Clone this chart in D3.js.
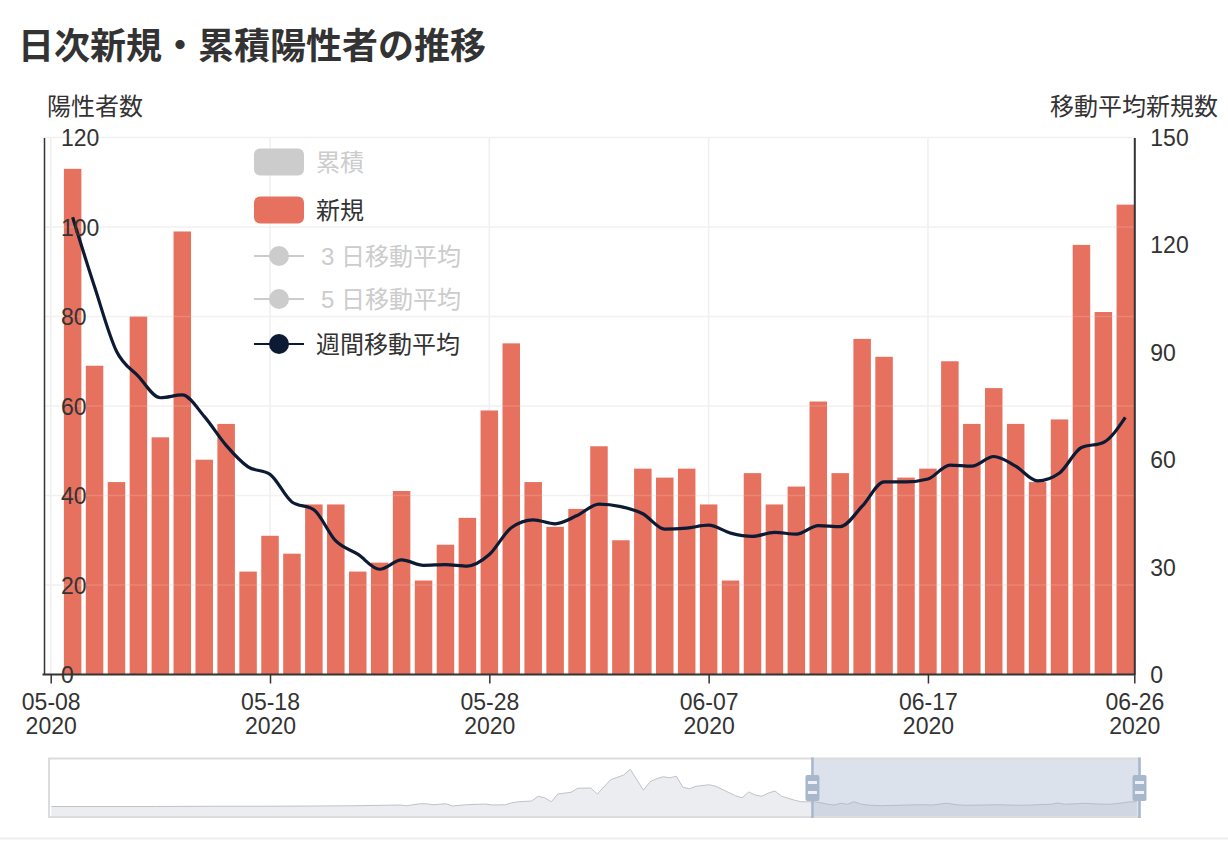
<!DOCTYPE html>
<html lang="ja">
<head>
<meta charset="utf-8">
<script src="https://cdn.jsdelivr.net/npm/d3@7"></script>
<style>
  body { margin: 0; background: #fff; }
  svg text { font-family: "Liberation Sans", "Noto Sans CJK JP", sans-serif; fill: #333; }
</style>
</head>
<body>
<svg id="chart" width="1228" height="856"></svg>
<script>
// daily new positives (bars) and 7-day moving average (line, right axis)
const dates = [
  "2020-05-09", "2020-05-10", "2020-05-11", "2020-05-12", "2020-05-13", "2020-05-14", "2020-05-15",
  "2020-05-16", "2020-05-17", "2020-05-18", "2020-05-19", "2020-05-20", "2020-05-21", "2020-05-22",
  "2020-05-23", "2020-05-24", "2020-05-25", "2020-05-26", "2020-05-27", "2020-05-28", "2020-05-29",
  "2020-05-30", "2020-05-31", "2020-06-01", "2020-06-02", "2020-06-03", "2020-06-04", "2020-06-05",
  "2020-06-06", "2020-06-07", "2020-06-08", "2020-06-09", "2020-06-10", "2020-06-11", "2020-06-12",
  "2020-06-13", "2020-06-14", "2020-06-15", "2020-06-16", "2020-06-17", "2020-06-18", "2020-06-19",
  "2020-06-20", "2020-06-21", "2020-06-22", "2020-06-23", "2020-06-24", "2020-06-25", "2020-06-26"
];
const newCases = [
  113, 69, 43, 80, 53, 99, 48, 56, 23, 31, 27, 38, 38, 23, 25, 41, 21, 29, 35, 59, 74, 43, 33, 37, 51,
  30, 46, 44, 46, 38, 21, 45, 38, 42, 61, 45, 75, 71, 44, 46, 70, 56, 64, 56, 43, 57, 96, 81, 105
];
const weeklyAvg = [
  127.7, 108.3, 90.3, 83.3, 77.3, 78.1, 72.1, 64.0, 58.0, 55.9, 48.2, 46.0, 37.3, 33.6, 29.4, 32.0,
  30.5, 30.7, 30.3, 33.5, 41.0, 43.2, 42.1, 44.4, 47.6, 46.9, 44.9, 40.6, 40.9, 41.7, 39.5, 38.6,
  39.7, 39.2, 41.6, 41.3, 47.0, 53.8, 53.8, 54.6, 58.5, 58.2, 60.9, 58.2, 54.1, 56.3, 63.4, 64.8, 71.8
];

const leftTicks = [0, 20, 40, 60, 80, 100, 120];
const rightTicks = [0, 30, 60, 90, 120, 150];
const xTickDates = ["2020-05-08", "2020-05-18", "2020-05-28", "2020-06-07", "2020-06-17"];

const legendNames = ["累積", "新規", "3 日移動平均", "5 日移動平均", "週間移動平均"];
const legendTypes = ["bar", "bar", "line", "line", "line"];
const legendActive = [false, true, false, false, true];

// data-zoom shadow (whole period, relative level)
const shadowDates = [
  "2020-01-13", "2020-01-21", "2020-01-29", "2020-02-06", "2020-02-14", "2020-02-22", "2020-02-28",
  "2020-03-06", "2020-03-07", "2020-03-09", "2020-03-10", "2020-03-11", "2020-03-13", "2020-03-14",
  "2020-03-16", "2020-03-19", "2020-03-20", "2020-03-22", "2020-03-23", "2020-03-24", "2020-03-26",
  "2020-03-27", "2020-03-28", "2020-03-29", "2020-03-30", "2020-04-01", "2020-04-02", "2020-04-04",
  "2020-04-05", "2020-04-07", "2020-04-09", "2020-04-10", "2020-04-12", "2020-04-13", "2020-04-14",
  "2020-04-15", "2020-04-16", "2020-04-17", "2020-04-18", "2020-04-19", "2020-04-20", "2020-04-22",
  "2020-04-23", "2020-04-26", "2020-04-27", "2020-04-28", "2020-04-29", "2020-04-30", "2020-05-01",
  "2020-05-02", "2020-05-03", "2020-05-04", "2020-05-05", "2020-05-06", "2020-05-08", "2020-05-09",
  "2020-05-10", "2020-05-11", "2020-05-12", "2020-05-13", "2020-05-14", "2020-05-15", "2020-05-16",
  "2020-05-18", "2020-05-21", "2020-05-24", "2020-05-26", "2020-05-28", "2020-05-30", "2020-05-31",
  "2020-06-03", "2020-06-05", "2020-06-08", "2020-06-10", "2020-06-13", "2020-06-14", "2020-06-15",
  "2020-06-17", "2020-06-18", "2020-06-20", "2020-06-22", "2020-06-24", "2020-06-25", "2020-06-26"
];
const shadowValues = [
  42, 42, 42, 43, 43, 44, 45,
  48, 45, 53, 53, 49, 53, 44,
  49, 52, 48, 49, 57, 61, 64,
  83, 77, 61, 92, 99, 115, 116,
  92, 149, 168, 191, 107, 141, 153,
  161, 157, 163, 119, 113, 123, 129,
  123, 85, 77, 100, 88, 83, 96,
  104, 83, 75, 67, 61, 61, 57,
  51, 48, 55, 51, 61, 52, 48,
  45, 47, 49, 48, 55, 48, 47,
  48, 49, 47, 48, 51, 56, 51,
  53, 55, 52, 51, 57, 61, 61
];

const parse = d3.timeParse("%Y-%m-%d");
const barColor = "#e6715f";
const lineColor = "#0c1a33";
const offColor = "#cccccc";

const svg = d3.select("#chart");

// plot area
const plotLeft = 44, plotRight = 1134.3, plotTop = 137.5, plotBottom = 674.5;
const firstDay = parse(xTickDates[0]);
const lastDay = parse(dates[dates.length - 1]);
const xStart = d3.timeMinute.offset(firstDay, -440); // axis starts a bit before 05-08
const xEnd = d3.timeMinute.offset(lastDay, 590);      // and ends a bit after 06-26

const x = d3.scaleTime().domain([xStart, xEnd]).range([plotLeft, plotRight]);
const yL = d3.scaleLinear().domain([0, 120]).range([plotBottom, plotTop]);
const yR = d3.scaleLinear().domain([0, 150]).range([plotBottom, plotTop]);
const barW = 17.5;

// title
svg.append("text")
  .attr("x", 18).attr("y", 46)
  .attr("dominant-baseline", "central")
  .style("font-size", "36px").style("font-weight", "bold")
  .text("日次新規・累積陽性者の推移");

// axis names
svg.append("text").attr("x", 47).attr("y", 106)
  .attr("dominant-baseline", "central").style("font-size", "24px").text("陽性者数");
svg.append("text").attr("x", 1218).attr("y", 106).attr("text-anchor", "end")
  .attr("dominant-baseline", "central").style("font-size", "24px").text("移動平均新規数");

// grid under bars
const grid = svg.append("g");
grid.selectAll(".hg").data(leftTicks.slice(1)).enter().append("line")
  .attr("x1", plotLeft).attr("x2", plotRight)
  .attr("y1", d => yL(d)).attr("y2", d => yL(d))
  .attr("stroke", "#efefef").attr("stroke-width", 1.5);
grid.selectAll(".vg").data(xTickDates).enter().append("line")
  .attr("x1", d => x(parse(d))).attr("x2", d => x(parse(d)))
  .attr("y1", plotTop).attr("y2", plotBottom)
  .attr("stroke", "#efefef").attr("stroke-width", 1.5);

// bars
svg.append("g").selectAll("rect").data(newCases).enter().append("rect")
  .attr("x", (d, i) => x(parse(dates[i])) - barW / 2)
  .attr("width", barW)
  .attr("y", d => yL(d))
  .attr("height", d => plotBottom - yL(d))
  .attr("fill", barColor);

// faint grid over bars
svg.append("g").selectAll("line").data(leftTicks.slice(1)).enter().append("line")
  .attr("x1", plotLeft).attr("x2", plotRight)
  .attr("y1", d => yL(d)).attr("y2", d => yL(d))
  .attr("stroke", "#ffffff").attr("stroke-opacity", 0.15).attr("stroke-width", 1.5);

// moving average line
const line = d3.line()
  .x((d, i) => x(parse(dates[i])))
  .y(d => yR(d))
  .curve(d3.curveMonotoneX);
svg.append("path").datum(weeklyAvg)
  .attr("d", line)
  .attr("fill", "none")
  .attr("stroke", lineColor)
  .attr("stroke-width", 3.2);

// left axis (labels inside)
const gL = svg.append("g").attr("transform", `translate(${plotLeft},0)`)
  .call(d3.axisLeft(yL).tickValues(leftTicks).tickSize(0));
gL.select(".domain").attr("stroke", "#333").attr("stroke-width", 1.5);
gL.selectAll("text").attr("x", 17).attr("text-anchor", "start")
  .attr("dy", null).attr("dominant-baseline", "central")
  .style("font-size", "23px").attr("font-family", null).attr("fill", null);

// right axis
const gR = svg.append("g").attr("transform", `translate(${plotRight},0)`)
  .call(d3.axisRight(yR).tickValues(rightTicks).tickSize(0).tickPadding(16));
gR.select(".domain").attr("stroke", "#333").attr("stroke-width", 2);
gR.selectAll("text").attr("dy", null).attr("dominant-baseline", "central")
  .style("font-size", "23px").attr("font-family", null).attr("fill", null);

// bottom axis with two-line labels
const xTicks = xTickDates.map(parse).concat([xEnd]);
const gX = svg.append("g").attr("transform", `translate(0,${plotBottom})`)
  .call(d3.axisBottom(x).tickValues(xTicks).tickSize(9).tickSizeOuter(0).tickFormat(""));
gX.select(".domain").attr("stroke", "#333").attr("stroke-width", 2)
  .attr("d", `M${plotLeft - 1.5},0H${plotRight}`);
gX.selectAll(".tick line").attr("stroke", "#333").attr("stroke-width", 1.5);
const fmtMD = d3.timeFormat("%m-%d"), fmtY = d3.timeFormat("%Y");
gX.selectAll(".tick").each(function (d) {
  const t = d3.select(this).append("text")
    .attr("text-anchor", "middle").style("font-size", "23px");
  t.append("tspan").attr("x", 0).attr("y", 27).attr("dominant-baseline", "central").text(fmtMD(d));
  t.append("tspan").attr("x", 0).attr("y", 51).attr("dominant-baseline", "central").text(fmtY(d));
});

// legend
const legendY = [162, 210, 256, 299, 344];
const lg = svg.append("g").selectAll("g").data(legendNames).enter().append("g")
  .attr("transform", (d, i) => `translate(254,${legendY[i]})`);
lg.each(function (d, i) {
  const g = d3.select(this);
  const col = legendActive[i] ? (legendTypes[i] === "bar" ? barColor : lineColor) : offColor;
  if (legendTypes[i] === "bar") {
    g.append("rect").attr("x", 0).attr("y", -13.5).attr("width", 50).attr("height", 27)
      .attr("rx", 6).attr("fill", col);
  } else {
    g.append("line").attr("x1", 0).attr("x2", 50).attr("y1", 0).attr("y2", 0)
      .attr("stroke", col).attr("stroke-width", 2);
    g.append("circle").attr("cx", 25).attr("cy", 0).attr("r", 10).attr("fill", col);
  }
  g.append("text")
    .attr("x", d.startsWith("3") || d.startsWith("5") ? 67 : 62)
    .attr("y", 0).attr("dominant-baseline", "central")
    .style("font-size", "24px")
    .style("fill", legendActive[i] ? "#333" : offColor)
    .text(d);
});

// data zoom slider
const sLeft = 50, sRight = 1139.5, sTop = 758.5, sBottom = 817;
const sx = d3.scaleTime()
  .domain([d3.timeHour.offset(parse(shadowDates[0]), -5), xEnd])
  .range([sLeft, sRight]);
const sy = d3.scaleLinear().domain([0, 200]).range([sBottom, sBottom - 50]);
const shadow = shadowDates.map((d, i) => ({ date: parse(d), v: shadowValues[i] }));

const slider = svg.append("g");
slider.append("rect").attr("x", sLeft).attr("y", sTop)
  .attr("width", sRight - sLeft).attr("height", sBottom - sTop).attr("fill", "#fff");
slider.append("path").datum(shadow)
  .attr("d", d3.area().x(d => sx(d.date)).y0(sBottom).y1(d => sy(d.v)))
  .attr("fill", "#ebedf0");
slider.append("path").datum(shadow)
  .attr("d", d3.line().x(d => sx(d.date)).y(d => sy(d.v)))
  .attr("fill", "none").attr("stroke", "#bfc3ca").attr("stroke-width", 1);

const selL = sx(xStart), selR = sx(xEnd);
slider.append("rect").attr("x", selL).attr("y", sTop)
  .attr("width", selR - selL).attr("height", sBottom - sTop)
  .attr("fill", "#a7b7cc").attr("fill-opacity", 0.4);
slider.append("rect").attr("x", sLeft - 1).attr("y", sTop)
  .attr("width", sRight - sLeft + 1).attr("height", sBottom - sTop)
  .attr("fill", "none").attr("stroke", "#dcdcdc").attr("stroke-width", 2);

[selL, selR].forEach(hx => {
  slider.append("line").attr("x1", hx).attr("x2", hx).attr("y1", sTop - 1).attr("y2", sBottom + 1)
    .attr("stroke", "#a7b7cc").attr("stroke-width", 2.5);
  slider.append("rect").attr("x", hx - 7).attr("y", 775).attr("width", 14).attr("height", 26)
    .attr("rx", 2).attr("fill", "#a7b7cc");
  [781, 791].forEach(by => {
    slider.append("rect").attr("x", hx - 4.5).attr("y", by).attr("width", 9).attr("height", 3)
      .attr("fill", "#eef1f5");
  });
});

// card separator
svg.append("line").attr("x1", 0).attr("x2", 1228).attr("y1", 838.5).attr("y2", 838.5)
  .attr("stroke", "#eeeeee").attr("stroke-width", 2);
</script>
</body>
</html>
